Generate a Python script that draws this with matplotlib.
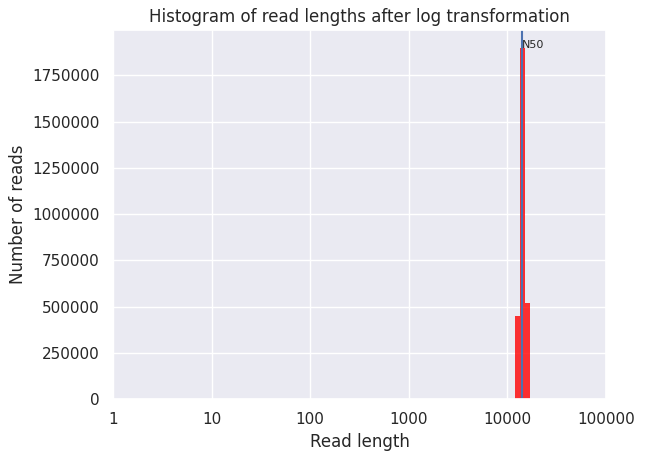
import numpy as np
import matplotlib
matplotlib.use("Agg")
import matplotlib.pyplot as plt
import seaborn as sns

# data (log10 read length bins)
bin_edges_log = [4.08, 4.13, 4.18, 4.23]
counts = [450000, 1900000, 520000]
n50 = 14060
tick_pos = [0, 1, 2, 3, 4, 5]
tick_labels = ["1", "10", "100", "1000", "10000", "100000"]

sns.set_theme(style="darkgrid")
plt.rcParams['font.family'] = ['DejaVu Sans']

fig = plt.figure(figsize=(6.47, 4.58), dpi=100)
ax = fig.add_axes([0.1747, 0.1288, 0.7619, 0.8057])

edges = np.array(bin_edges_log)
ax.bar(edges[:-1], counts, width=np.diff(edges), align='edge', color='red', alpha=0.8, linewidth=0)
ax.axvline(np.log10(n50), color='#4C72B0', linewidth=1.5)
ax.text(np.log10(n50), max(counts), "N50", fontsize=8, color='#262626')

ax.set_xlim(0, 5)
ax.set_xticks(tick_pos)
ax.set_xticklabels(tick_labels)
ax.set_title("Histogram of read lengths after log transformation")
ax.set_xlabel("Read length")
ax.set_ylabel("Number of reads")
ax.ticklabel_format(axis='y', style='plain')

fig.savefig("out.png", dpi=100)
